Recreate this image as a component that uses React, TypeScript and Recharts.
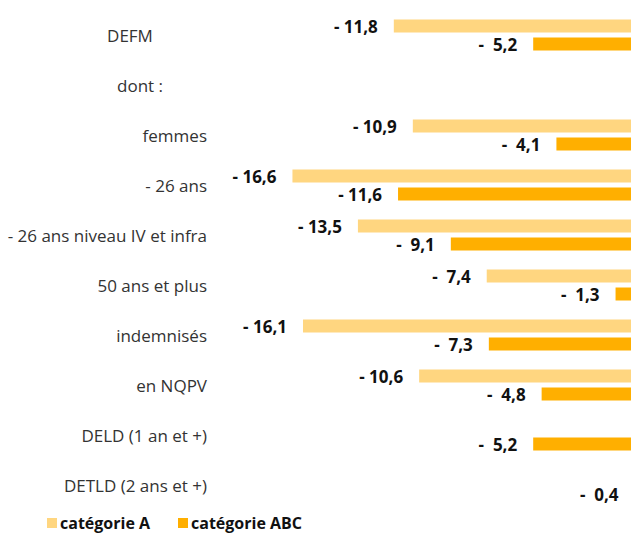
import React from "react";
import { BarChart, Bar, XAxis, YAxis, LabelList, Legend } from "recharts";

const categories = [
  "DEFM",
  "dont :",
  "femmes",
  "- 26 ans",
  "- 26 ans niveau IV et infra",
  "50 ans et plus",
  "indemnisés",
  "en NQPV",
  "DELD (1 an et +)",
  "DETLD (2 ans et +)",
];
const categorieA: (number | null)[] = [-11.8, null, -10.9, -16.6, -13.5, -7.4, -16.1, -10.6, null, null];
const categorieABC: (number | null)[] = [-5.2, null, -4.1, -11.6, -9.1, -1.3, -7.3, -4.8, -5.2, -0.4];

const seriesNames = ["catégorie A", "catégorie ABC"];
const colors = ["#FFD680", "#FFAF00"];

const data = categories.map((c, i) => ({ name: c, a: categorieA[i], abc: categorieABC[i] }));

const FONT = "'Open Sans', sans-serif";

const fmt = (v: number) => {
  const a = Math.abs(v);
  return "- " + (a < 10 ? "\u00A0" : "") + a.toFixed(1).replace(".", ",");
};

const BarLabel = (props: any) => {
  const { x, y, width, height, value } = props;
  if (value === null || value === undefined) return null;
  const left = Math.min(x, x + width);
  return (
    <text
      x={left - 16}
      y={y + height / 2}
      textAnchor="end"
      dominantBaseline="central"
      fontFamily={FONT}
      fontWeight={700}
      fontSize={17}
      fill="#111"
      style={{ whiteSpace: "pre" }}
    >
      {fmt(value)}
    </text>
  );
};

const centeredLabels: Record<string, number> = { DEFM: 77, "dont :": 67 };

const Tick = (props: any) => {
  const { x, y, payload } = props;
  const label = payload.value as string;
  const isCentered = label in centeredLabels;
  return (
    <text
      x={isCentered ? x - 69 - centeredLabels[label] : x - 69}
      y={y}
      textAnchor={isCentered ? "middle" : "end"}
      dominantBaseline="central"
      fontFamily={FONT}
      fontSize={17}
      fill="#333"
    >
      {label}
    </text>
  );
};

const LegendContent = () => (
  <div style={{ display: "flex", alignItems: "center", fontFamily: FONT, fontWeight: 700, fontSize: 16, color: "#111", paddingLeft: 47, paddingTop: 2 }}>
    {seriesNames.map((n, i) => (
      <div key={n} style={{ display: "flex", alignItems: "center", marginRight: 28 }}>
        <span style={{ display: "inline-block", width: 10, height: 10, background: colors[i], marginRight: 3 }} />
        <span>{n}</span>
      </div>
    ))}
  </div>
);

export default function App() {
  return (
    <div style={{ position: "absolute", left: 0, top: 0, width: 631, height: 533, overflow: "hidden", background: "#fff" }}>
      <BarChart
        width={643}
        height={533}
        data={data}
        layout="vertical"
        margin={{ top: 10, right: 0, bottom: 3, left: 0 }}
        barCategoryGap="19%"
        barGap={5}
      >
        <XAxis type="number" domain={[-17, 0]} hide />
        <YAxis type="category" dataKey="name" width={284} axisLine={false} tickLine={false} tick={<Tick />} interval={0} />
        <Legend verticalAlign="bottom" height={20} content={<LegendContent />} />
        <Bar dataKey="a" name={seriesNames[0]} fill={colors[0]} isAnimationActive={false}>
          <LabelList dataKey="a" content={<BarLabel />} />
        </Bar>
        <Bar dataKey="abc" name={seriesNames[1]} fill={colors[1]} isAnimationActive={false}>
          <LabelList dataKey="abc" content={<BarLabel />} />
        </Bar>
      </BarChart>
    </div>
  );
}
